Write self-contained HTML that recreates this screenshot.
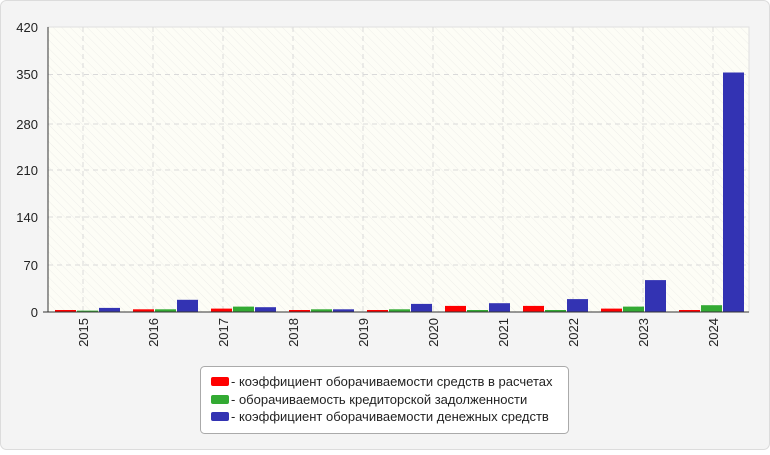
<!DOCTYPE html><html><head><meta charset="utf-8"><style>body{margin:0;background:#fff}</style></head><body>
<svg width="770" height="450" xmlns="http://www.w3.org/2000/svg" font-family="Liberation Sans, sans-serif">
<defs><pattern id="h" width="6" height="6" patternUnits="userSpaceOnUse" patternTransform="rotate(-45)"><rect width="6" height="6" fill="#fdfdf6"/><line x1="0" y1="0" x2="0" y2="6" stroke="#eeeeea" stroke-width="1"/></pattern></defs>
<rect x="0.5" y="0.5" width="769" height="449" rx="6" fill="#f4f4f4" stroke="#dcdcdc"/>
<rect x="48" y="27" width="701" height="285" fill="url(#h)" stroke="#e0e0e0"/>
<g stroke="#dadada" stroke-dasharray="5,4">
<line x1="48" y1="74.5" x2="749" y2="74.5"/><line x1="48" y1="124" x2="749" y2="124"/><line x1="48" y1="170" x2="749" y2="170"/><line x1="48" y1="217" x2="749" y2="217"/><line x1="48" y1="265" x2="749" y2="265"/>
<line x1="83" y1="27" x2="83" y2="312"/><line x1="153" y1="27" x2="153" y2="312"/><line x1="223" y1="27" x2="223" y2="312"/><line x1="293" y1="27" x2="293" y2="312"/><line x1="363" y1="27" x2="363" y2="312"/><line x1="433" y1="27" x2="433" y2="312"/><line x1="503" y1="27" x2="503" y2="312"/><line x1="573" y1="27" x2="573" y2="312"/><line x1="643" y1="27" x2="643" y2="312"/><line x1="713" y1="27" x2="713" y2="312"/>
</g>
<g fill="#f00">
<rect x="55" y="310" width="21" height="2"/><rect x="133" y="309.3" width="21" height="2.7"/><rect x="211" y="308.6" width="21" height="3.4"/><rect x="289" y="310" width="21" height="2"/><rect x="367" y="310" width="21" height="2"/><rect x="445" y="305.9" width="21" height="6.1"/><rect x="523" y="305.9" width="21" height="6.1"/><rect x="601" y="308.6" width="21" height="3.4"/><rect x="679" y="310" width="21" height="2"/>
</g>
<g fill="#33aa33">
<rect x="77" y="310.6" width="21" height="1.4"/><rect x="155" y="309.3" width="21" height="2.7"/><rect x="233" y="306.6" width="21" height="5.4"/><rect x="311" y="309.3" width="21" height="2.7"/><rect x="389" y="309.3" width="21" height="2.7"/><rect x="467" y="310" width="21" height="2"/><rect x="545" y="310" width="21" height="2"/><rect x="623" y="306.6" width="21" height="5.4"/><rect x="701" y="305.2" width="21" height="6.8"/>
</g>
<g fill="#3333b3">
<rect x="99" y="307.9" width="21" height="4.1"/><rect x="177" y="299.8" width="21" height="12.2"/><rect x="255" y="307.2" width="21" height="4.8"/><rect x="333" y="309.3" width="21" height="2.7"/><rect x="411" y="303.9" width="21" height="8.1"/><rect x="489" y="303.2" width="21" height="8.8"/><rect x="567" y="299.1" width="21" height="12.9"/><rect x="645" y="280.1" width="21" height="31.9"/><rect x="723" y="72.5" width="21" height="239.5"/>
</g>
<line x1="48" y1="27" x2="48" y2="312" stroke="#333"/><line x1="43" y1="312" x2="749" y2="312" stroke="#333"/>
<g font-size="13" fill="#222" text-anchor="end">
<text x="38" y="32">420</text><text x="38" y="79">350</text><text x="38" y="129">280</text><text x="38" y="175">210</text><text x="38" y="222">140</text><text x="38" y="270">70</text><text x="38" y="317">0</text>
</g>
<g font-size="13" fill="#222" text-anchor="end">
<text transform="translate(88,318) rotate(-90)">2015</text><text transform="translate(158,318) rotate(-90)">2016</text><text transform="translate(228,318) rotate(-90)">2017</text><text transform="translate(298,318) rotate(-90)">2018</text><text transform="translate(368,318) rotate(-90)">2019</text><text transform="translate(438,318) rotate(-90)">2020</text><text transform="translate(508,318) rotate(-90)">2021</text><text transform="translate(578,318) rotate(-90)">2022</text><text transform="translate(648,318) rotate(-90)">2023</text><text transform="translate(718,318) rotate(-90)">2024</text>
</g>
<rect x="200.5" y="366.5" width="368" height="67" rx="4" fill="#fff" stroke="#aaa"/>
<rect x="211" y="377" width="18" height="9" rx="2" fill="#f00"/><rect x="211" y="395" width="18" height="9" rx="2" fill="#33aa33"/><rect x="211" y="412" width="18" height="9" rx="2" fill="#3333b3"/>
<g font-size="13" fill="#222">
<text x="231" y="386">- коэффициент оборачиваемости средств в расчетах</text>
<text x="231" y="404">- оборачиваемость кредиторской задолженности</text>
<text x="231" y="421">- коэффициент оборачиваемости денежных средств</text>
</g>
</svg></body></html>
